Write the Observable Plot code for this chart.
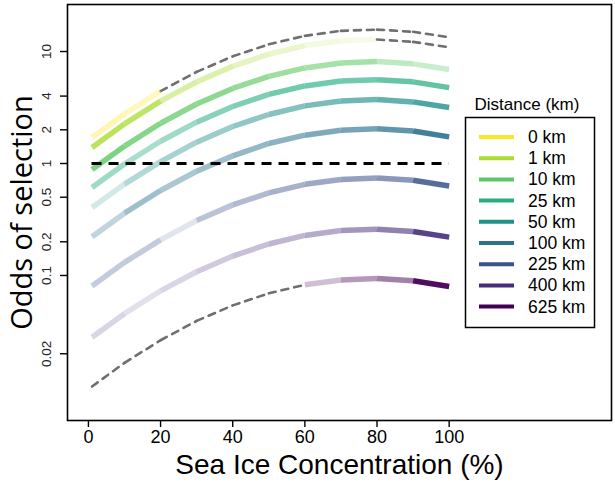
<!DOCTYPE html>
<html>
<head>
<meta charset="utf-8">
<script src="https://cdn.jsdelivr.net/npm/d3@7"></script>
<script src="https://cdn.jsdelivr.net/npm/@observablehq/plot@0.6"></script>
<style>
  body { margin: 0; background: #fff; }
  #wrap { position: relative; width: 615px; height: 483px; overflow: hidden; }
  #legend { position: absolute; left: 0; top: 0; }
</style>
</head>
<body>
<div id="wrap"></div>
<script>
// Sea ice concentration (%) at which the curves are evaluated
const sic = [1, 10, 20, 30, 40, 50, 60, 70, 80, 90, 100];
const distances = ["0 km", "1 km", "10 km", "25 km", "50 km", "100 km", "225 km", "400 km", "625 km"];
const palette = ["#FDE725", "#AADC32", "#5DC863", "#27AD81", "#21908C", "#2C728E", "#3B528B", "#472D7B", "#440154"];

// Odds of selection read at each sic value
const odds0km   = [1.71, 2.77, 4.43, 6.58, 9.06, 11.6, 13.8, 15.3, 15.7, 15.0, 13.4];
const odds1km   = [1.39, 2.26, 3.61, 5.36, 7.38, 9.46, 11.3, 12.5, 12.8, 12.2, 10.9];
const odds10km  = [0.883, 1.43, 2.29, 3.40, 4.68, 6.00, 7.14, 7.90, 8.13, 7.76, 6.90];
const odds25km  = [0.610, 0.989, 1.58, 2.34, 3.23, 4.14, 4.93, 5.45, 5.61, 5.36, 4.76];
const odds50km  = [0.404, 0.655, 1.04, 1.55, 2.14, 2.74, 3.27, 3.61, 3.72, 3.55, 3.16];
const odds100km = [0.222, 0.360, 0.574, 0.853, 1.17, 1.51, 1.79, 1.98, 2.04, 1.95, 1.73];
const odds225km = [0.0805, 0.131, 0.208, 0.310, 0.427, 0.547, 0.652, 0.720, 0.741, 0.708, 0.630];
const odds400km = [0.0281, 0.0456, 0.0728, 0.108, 0.149, 0.191, 0.228, 0.252, 0.259, 0.247, 0.220];
const odds625km = [0.0102, 0.0166, 0.0264, 0.0393, 0.0541, 0.0693, 0.0826, 0.0913, 0.0940, 0.0897, 0.0798];

// Data support of each 10% interval (0 = outside observed data, drawn as extrapolation)
const support0km   = [0.35, 0.3, 0, 0, 0, 0, 0, 0, 0, 0];
const support1km   = [0.8, 0.75, 0.45, 0.4, 0.3, 0.25, 0.15, 0.12, 0, 0];
const support10km  = [0.8, 0.75, 0.7, 0.7, 0.65, 0.6, 0.55, 0.55, 0.4, 0.32];
const support25km  = [0.45, 0.4, 0.45, 0.55, 0.6, 0.65, 0.65, 0.65, 0.7, 0.72];
const support50km  = [0.2, 0.35, 0.4, 0.45, 0.5, 0.55, 0.6, 0.65, 0.7, 0.8];
const support100km = [0.3, 0.45, 0.4, 0.45, 0.5, 0.55, 0.6, 0.65, 0.75, 0.9];
const support225km = [0.3, 0.3, 0.15, 0.35, 0.4, 0.45, 0.5, 0.55, 0.6, 0.85];
const support400km = [0.2, 0.15, 0.2, 0.25, 0.3, 0.35, 0.4, 0.5, 0.6, 0.9];
const support625km = [0, 0, 0, 0, 0, 0, 0.25, 0.4, 0.5, 0.95];

const xTicks = [0, 20, 40, 60, 80, 100];
const yTicks = [0.02, 0.1, 0.2, 0.5, 1, 2, 4, 10];

const oddsSeries = [odds0km, odds1km, odds10km, odds25km, odds50km, odds100km, odds225km, odds400km, odds625km];
const supportSeries = [support0km, support1km, support10km, support25km, support50km, support100km, support225km, support400km, support625km];

const solid = [], dashed = [];
distances.forEach((dist, i) => {
  const ys = oddsSeries[i], sup = supportSeries[i];
  for (let j = 0; j < sic.length - 1; j++) {
    const key = i + "-" + j;
    const target = sup[j] > 0 ? solid : dashed;
    target.push({key, dist, support: sup[j], x: sic[j], y: ys[j]});
    target.push({key, dist, support: sup[j], x: sic[j + 1], y: ys[j + 1]});
  }
});

const chart = Plot.plot({
  width: 615,
  height: 483,
  marginLeft: 67,
  marginRight: 4,
  marginTop: 4,
  marginBottom: 63,
  style: {fontFamily: "'Liberation Sans', Arial, sans-serif", fontSize: "17px", background: "#fff", color: "#000"},
  x: {domain: [-5.8, 145]},
  y: {type: "log", domain: [0.00507, 26.3]},
  color: {domain: distances, range: palette},
  opacity: {domain: [0, 1], range: [0, 1]},
  marks: [
    Plot.line(dashed, {x: "x", y: "y", z: "key", stroke: "#6f6f6f", strokeWidth: 2.6, strokeDasharray: "7,6"}),
    Plot.line(solid, {x: "x", y: "y", z: "key", stroke: "dist", strokeOpacity: "support", strokeWidth: 5.5, strokeLinecap: "butt"}),
    Plot.ruleY([1], {x1: sic[0], x2: sic[sic.length - 1], stroke: "#000", strokeWidth: 2.8, strokeDasharray: "10,7"}),
    Plot.frame({stroke: "#000", strokeWidth: 1.6}),
    Plot.axisX({ticks: xTicks, tickSize: 7, tickPadding: 3, fontSize: 18, label: null, strokeWidth: 1.4}),
    Plot.axisY({ticks: yTicks, tickSize: 7, tickFormat: () => "", label: null, strokeWidth: 1.4}),
    Plot.text(yTicks, {y: d => d, text: d => String(d), frameAnchor: "left", textAnchor: "middle", lineAnchor: "middle", rotate: -90, dx: -21, fontSize: 13.5, fill: "#222"}),
    Plot.text(["Sea Ice Concentration (%)"], {frameAnchor: "bottom", lineAnchor: "middle", dy: 45, fontSize: 28}),
    Plot.text(["Odds of selection"], {frameAnchor: "left", textAnchor: "middle", lineAnchor: "middle", rotate: -90, dx: -45, fontSize: 29, fontFamily: "'Open Sans', sans-serif"})
  ]
});

const wrap = document.getElementById("wrap");
wrap.appendChild(chart);

// Legend
const svg = d3.select(wrap).append("svg")
  .attr("id", "legend").attr("width", 615).attr("height", 483)
  .style("font-family", "'Liberation Sans', Arial, sans-serif");
svg.append("text").attr("x", 527).attr("y", 110).attr("text-anchor", "middle")
  .attr("font-size", 17).text("Distance (km)");
svg.append("rect").attr("x", 465.5).attr("y", 117.5).attr("width", 129).attr("height", 210)
  .attr("fill", "#fff").attr("stroke", "#000").attr("stroke-width", 1.5);
distances.forEach((d, i) => {
  const y = 137 + i * 21.2;
  svg.append("line").attr("x1", 479).attr("x2", 514).attr("y1", y).attr("y2", y)
    .attr("stroke", palette[i]).attr("stroke-width", 4);
  svg.append("text").attr("x", 528).attr("y", y + 6).attr("font-size", 17.5).text(d);
});
</script>
</body>
</html>
